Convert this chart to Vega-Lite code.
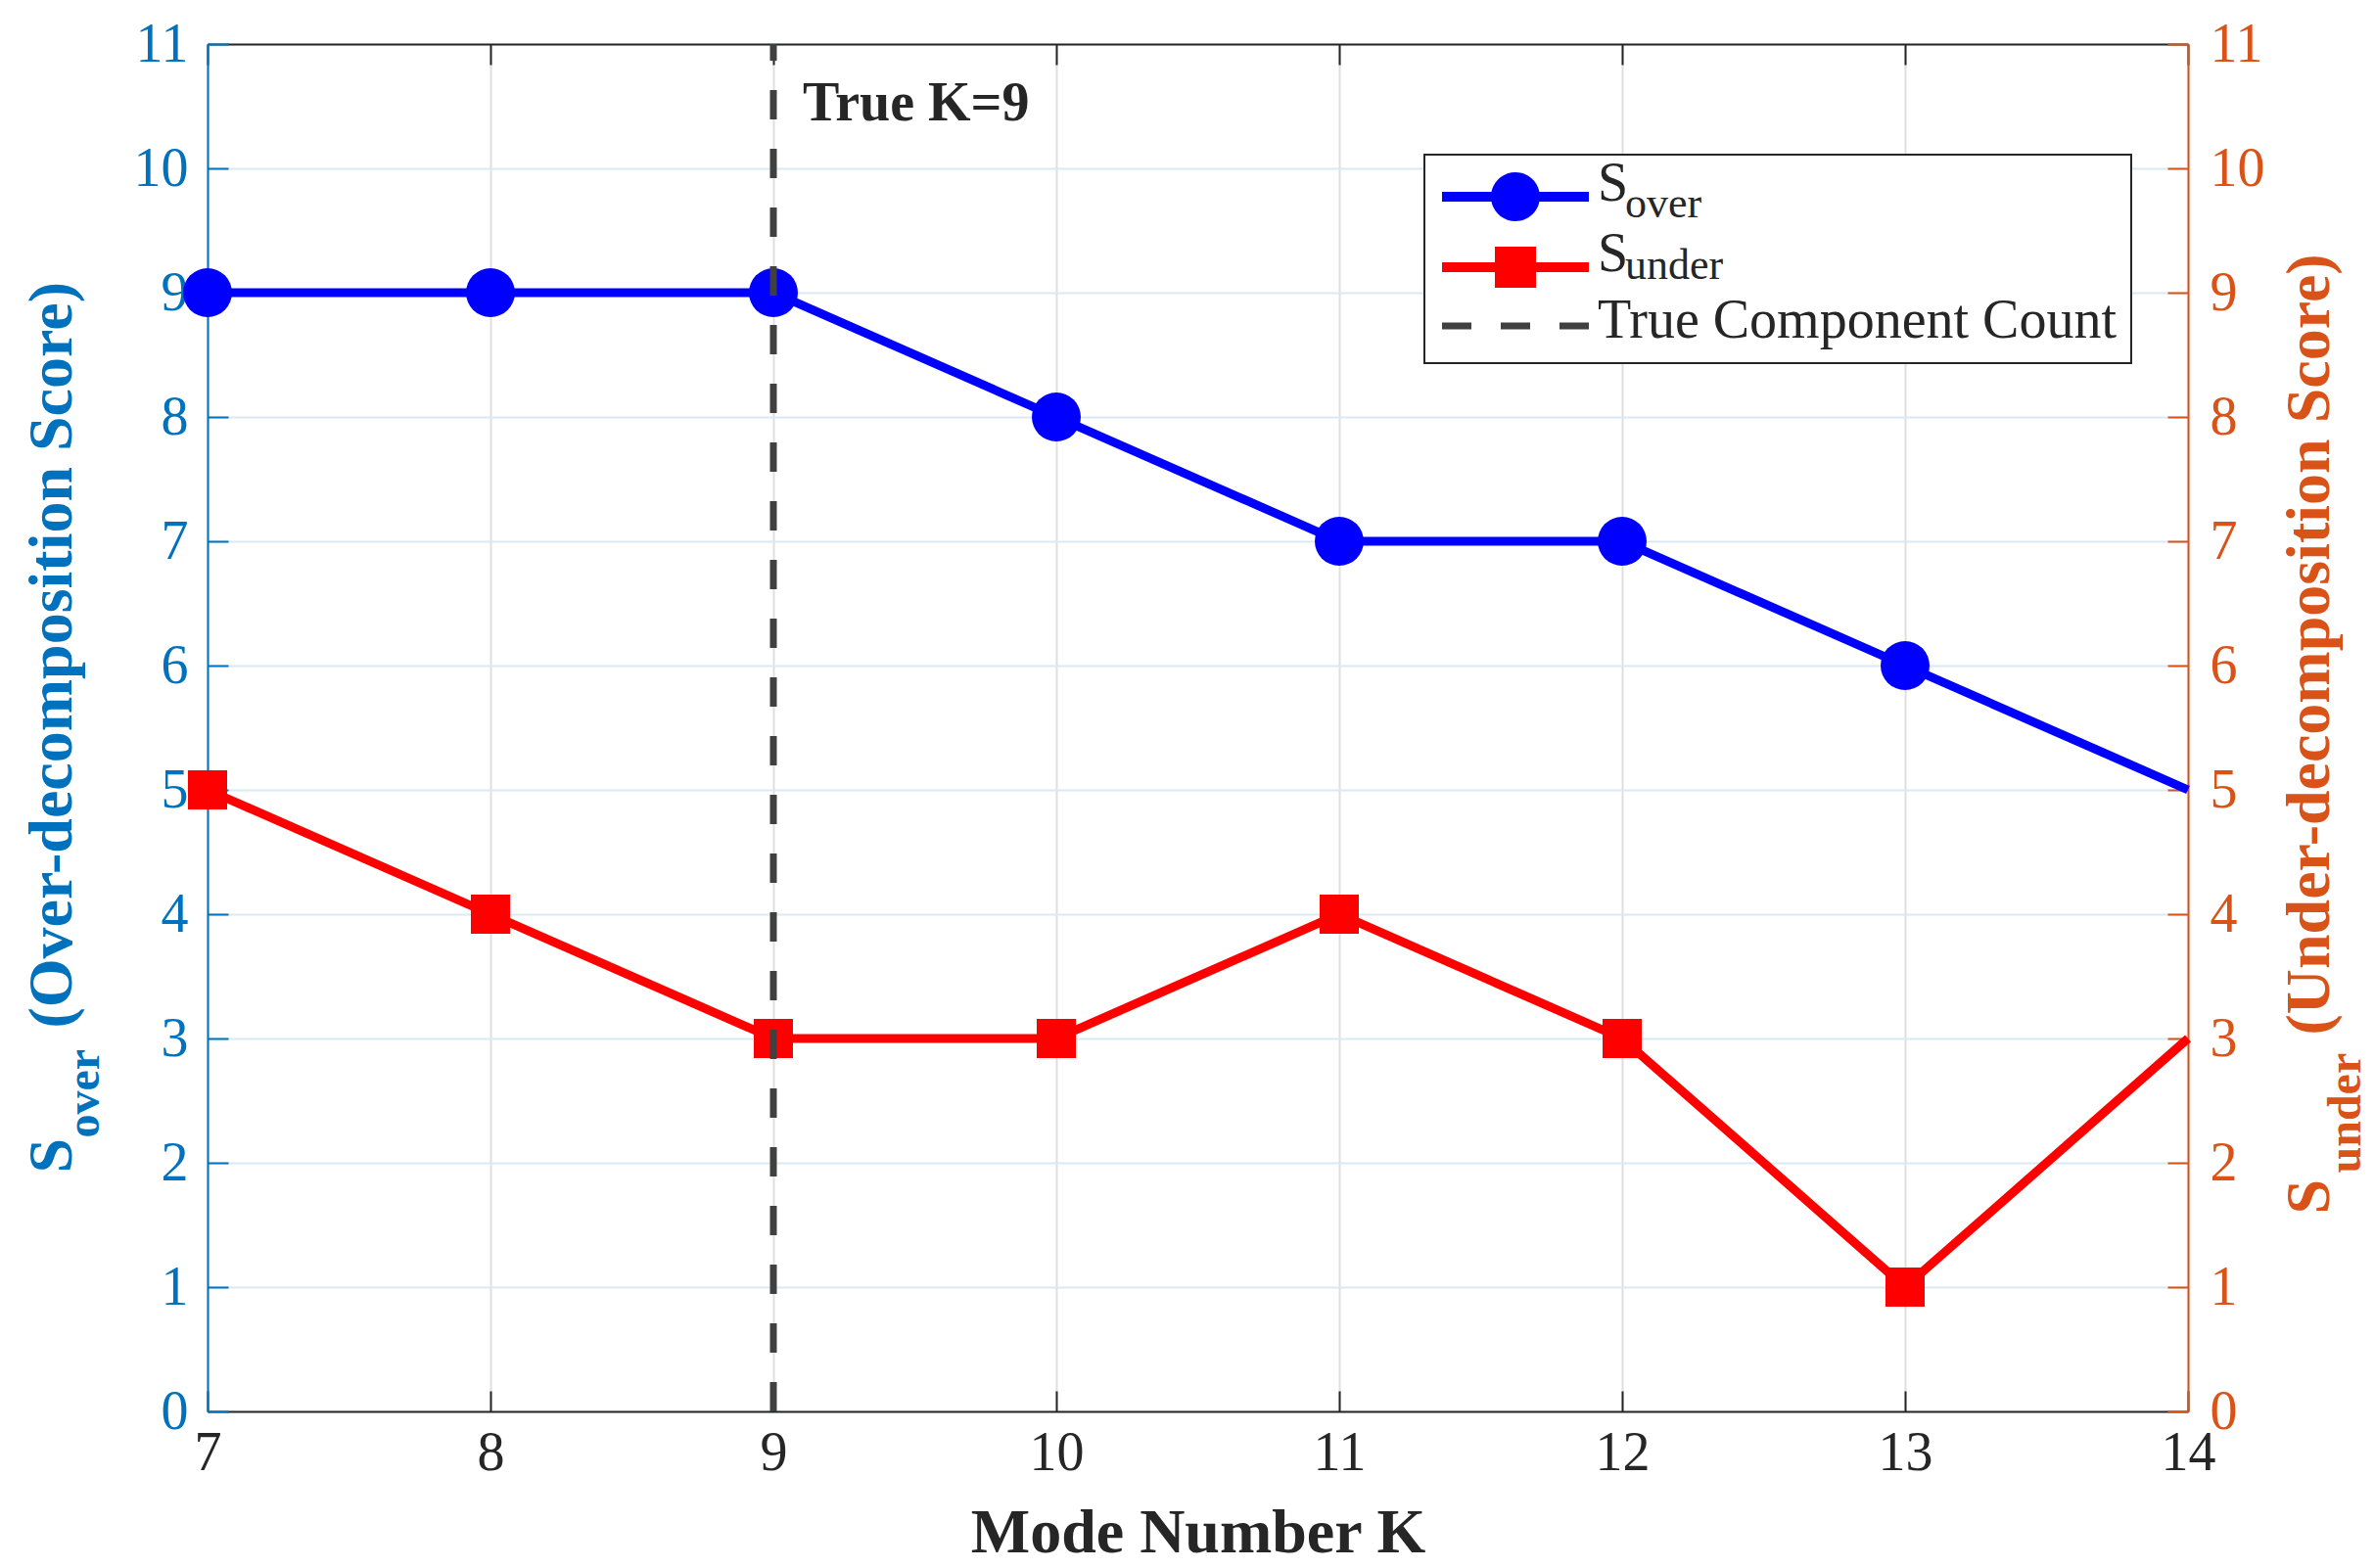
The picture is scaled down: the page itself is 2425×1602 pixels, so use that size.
{
  "$schema": "https://vega.github.io/schema/vega-lite/v6.json",
  "width": 2023,
  "height": 1397,
  "autosize": {"type": "none"},
  "padding": {"left": 212, "top": 45, "right": 190, "bottom": 160},
  "background": "white",
  "config": {
    "view": {"stroke": null},
    "font": "Liberation Serif",
    "axis": {
      "labelFont": "Liberation Serif",
      "titleFont": "Liberation Serif",
      "labelFontSize": 56,
      "titleFontSize": 64,
      "titleFontWeight": "bold",
      "tickWidth": 2,
      "domainWidth": 2,
      "tickSize": -21,
      "gridWidth": 2,
      "labelFlush": false
    }
  },
  "datasets": {
    "scores": [
      {"K": 7, "over": 9, "under": 5},
      {"K": 8, "over": 9, "under": 4},
      {"K": 9, "over": 9, "under": 3},
      {"K": 10, "over": 8, "under": 3},
      {"K": 11, "over": 7, "under": 4},
      {"K": 12, "over": 7, "under": 3},
      {"K": 13, "over": 6, "under": 1},
      {"K": 14, "over": 5, "under": 3}
    ],
    "truek": [{"K": 9, "label": "True K=9"}],
    "legend": [
      {"series": "S_over"},
      {"series": "S_under"},
      {"series": "True Component Count"}
    ],
    "subs": [{"sub": "over"}, {"sub": "under"}]
  },
  "layer": [
    {
      "data": {"name": "scores"},
      "mark": {"type": "line", "color": "#0000FF", "strokeWidth": 9},
      "encoding": {
        "x": {
          "field": "K", "type": "quantitative",
          "scale": {"domain": [7, 14], "nice": false, "zero": false},
          "axis": {
            "orient": "bottom", "values": [7, 8, 9, 10, 11, 12, 13, 14],
            "labelColor": "#262626", "tickColor": "#262626", "domainColor": "#262626",
            "labelPadding": 36,
            "grid": true, "gridColor": "#dfdfdf",
            "title": "Mode Number K", "titleColor": "#262626",
            "titleX": 1011.5, "titleY": 143, "titleAlign": "center", "titleBaseline": "alphabetic"
          }
        },
        "y": {
          "field": "over", "type": "quantitative",
          "scale": {"domain": [0, 11], "nice": false, "zero": false},
          "axis": {
            "orient": "left", "values": [0, 1, 2, 3, 4, 5, 6, 7, 8, 9, 10, 11],
            "labelColor": "#0072BD", "tickColor": "#0072BD", "domainColor": "#0072BD",
            "labelPadding": 41,
            "grid": true, "gridColor": "#d9eaf5",
            "title": "(Over-decomposition Score)", "titleColor": "#0072BD",
            "titleAngle": 270, "titleAlign": "left", "titleBaseline": "alphabetic",
            "titleX": -140, "titleY": 1005
          }
        }
      }
    },
    {
      "data": {"name": "scores"},
      "mark": {"type": "line", "color": "#FF0000", "strokeWidth": 9},
      "encoding": {
        "x": {"field": "K", "type": "quantitative", "scale": {"domain": [7, 14], "nice": false, "zero": false}, "axis": null},
        "y": {
          "field": "under", "type": "quantitative",
          "scale": {"domain": [0, 11], "nice": false, "zero": false},
          "axis": {
            "orient": "right", "values": [0, 1, 2, 3, 4, 5, 6, 7, 8, 9, 10, 11],
            "labelColor": "#D95319", "tickColor": "#D95319", "domainColor": "#D95319",
            "labelPadding": 43, "grid": false,
            "title": "(Under-decomposition Score)", "titleColor": "#D95319",
            "titleAngle": 270, "titleAlign": "left", "titleBaseline": "alphabetic",
            "titleX": 143, "titleY": 1012
          }
        }
      }
    },
    {
      "data": {"name": "scores"},
      "transform": [{"filter": "datum.K < 14"}],
      "mark": {"type": "point", "shape": "circle", "filled": true, "opacity": 1, "size": 2500, "color": "#0000FF"},
      "encoding": {
        "x": {"field": "K", "type": "quantitative", "scale": {"domain": [7, 14], "nice": false, "zero": false}, "axis": null},
        "y": {
          "field": "over", "type": "quantitative",
          "scale": {"domain": [0, 11], "nice": false, "zero": false},
          "axis": {
            "orient": "left", "labels": false, "ticks": false, "domain": false, "grid": false,
            "title": "S", "titleColor": "#0072BD",
            "titleAngle": 270, "titleAlign": "left", "titleBaseline": "alphabetic",
            "titleX": -140, "titleY": 1153
          }
        }
      }
    },
    {
      "data": {"name": "scores"},
      "transform": [{"filter": "datum.K < 14"}],
      "mark": {"type": "point", "shape": "square", "filled": true, "opacity": 1, "size": 1600, "color": "#FF0000"},
      "encoding": {
        "x": {"field": "K", "type": "quantitative", "scale": {"domain": [7, 14], "nice": false, "zero": false}, "axis": null},
        "y": {
          "field": "under", "type": "quantitative",
          "scale": {"domain": [0, 11], "nice": false, "zero": false},
          "axis": {
            "orient": "right", "labels": false, "ticks": false, "domain": false, "grid": false,
            "title": "S", "titleColor": "#D95319",
            "titleAngle": 270, "titleAlign": "left", "titleBaseline": "alphabetic",
            "titleX": 143, "titleY": 1195
          }
        }
      }
    },
    {
      "data": {"name": "truek"},
      "mark": {"type": "rule", "color": "#404040", "strokeWidth": 7, "strokeDash": [30, 30]},
      "encoding": {
        "x": {
          "field": "K", "type": "quantitative",
          "scale": {"domain": [7, 14], "nice": false, "zero": false},
          "axis": {
            "orient": "top", "values": [7, 8, 9, 10, 11, 12, 13, 14], "labels": false,
            "tickColor": "#262626", "domainColor": "#262626", "grid": false, "title": null
          }
        },
        "y": {
          "datum": 0, "type": "quantitative",
          "scale": {"domain": [0, 11], "nice": false, "zero": false},
          "axis": {
            "orient": "left", "labels": false, "ticks": false, "domain": false, "grid": false,
            "title": "over", "titleColor": "#0072BD", "titleFontSize": 48,
            "titleAngle": 270, "titleAlign": "left", "titleBaseline": "alphabetic",
            "titleX": -112, "titleY": 1117
          }
        },
        "y2": {"datum": 11}
      }
    },
    {
      "data": {"name": "truek"},
      "mark": {"type": "text", "font": "Liberation Serif", "fontSize": 56, "fontWeight": "bold", "color": "#262626", "align": "left", "baseline": "alphabetic", "dx": 30, "dy": 78},
      "encoding": {
        "x": {"field": "K", "type": "quantitative", "scale": {"domain": [7, 14], "nice": false, "zero": false}, "axis": null},
        "y": {
          "datum": 11, "type": "quantitative",
          "scale": {"domain": [0, 11], "nice": false, "zero": false},
          "axis": {
            "orient": "right", "labels": false, "ticks": false, "domain": false, "grid": false,
            "title": "under", "titleColor": "#D95319", "titleFontSize": 48,
            "titleAngle": 270, "titleAlign": "left", "titleBaseline": "alphabetic",
            "titleX": 175, "titleY": 1153
          }
        },
        "text": {"field": "label"}
      }
    },
    {
      "data": {"name": "legend"},
      "mark": {"type": "point", "filled": true, "opacity": 0},
      "encoding": {
        "color": {
          "field": "series", "type": "nominal",
          "scale": {"domain": ["S_over", "S_under", "True Component Count"], "range": ["#0000FF", "#FF0000", "#404040"]},
          "legend": {
            "orient": "none", "direction": "vertical", "legendX": 1243, "legendY": 113, "title": null, "zindex": 1,
            "padding": 15, "strokeColor": "#262626", "fillColor": "white",
            "symbolSize": 2500, "symbolStrokeWidth": 0, "symbolOpacity": 1,
            "symbolOffset": 50, "labelOffset": 56, "rowPadding": 6,
            "labelFont": "Liberation Serif", "labelFontSize": 56, "labelColor": "#262626",
            "labelBaseline": "alphabetic", "labelLimit": 1000,
            "labelExpr": "datum.value === 'True Component Count' ? 'True Component Count\u00a0' : 'S'",
            "encode": {
              "legend": {"update": {"strokeWidth": {"value": 2}}},
              "labels": {"update": {"dy": {"signal": "datum.value === 'True Component Count' ? 12 : 4"}}}
            }
          }
        },
        "shape": {
          "field": "series", "type": "nominal",
          "scale": {
            "domain": ["S_over", "S_under", "True Component Count"],
            "range": [
              "M-3,-0.2H3V0.2H-3Z M0,-1A1,1,0,1,1,0,1A1,1,0,1,1,0,-1Z",
              "M-3,-0.2H3V0.2H-3Z M-0.84,-0.84H0.84V0.84H-0.84Z",
              "M-3,-0.14H-1.8V0.14H-3Z M-0.6,-0.14H0.6V0.14H-0.6Z M1.8,-0.14H3V0.14H1.8Z"
            ]
          },
          "legend": {
            "orient": "none", "direction": "vertical", "legendX": 1243, "legendY": 113, "title": null, "zindex": 1,
            "padding": 15, "strokeColor": "#262626", "fillColor": "white",
            "symbolSize": 2500, "symbolStrokeWidth": 0, "symbolOpacity": 1,
            "symbolOffset": 50, "labelOffset": 56, "rowPadding": 6,
            "labelFont": "Liberation Serif", "labelFontSize": 56, "labelColor": "#262626",
            "labelBaseline": "alphabetic", "labelLimit": 1000,
            "labelExpr": "datum.value === 'True Component Count' ? 'True Component Count\u00a0' : 'S'",
            "encode": {
              "legend": {"update": {"strokeWidth": {"value": 2}}},
              "labels": {"update": {"dy": {"signal": "datum.value === 'True Component Count' ? 12 : 4"}}}
            }
          }
        }
      }
    },
    {
      "data": {"name": "subs"},
      "mark": {"type": "line", "opacity": 0},
      "encoding": {
        "strokeDash": {
          "field": "sub", "type": "nominal",
          "scale": {"domain": ["over", "under"], "range": [[1, 0], [1, 0]]},
          "legend": {
            "orient": "none", "direction": "vertical", "legendX": 1404, "legendY": 155, "title": null, "zindex": 2,
            "padding": 0, "symbolSize": 1, "symbolStrokeWidth": 0, "symbolOpacity": 0, "labelOffset": 0, "rowPadding": 19,
            "labelFont": "Liberation Serif", "labelFontSize": 44, "labelColor": "#262626",
            "labelBaseline": "alphabetic", "labelLimit": 1000
          }
        }
      }
    }
  ],
  "resolve": {"axis": {"x": "independent", "y": "independent"}}
}
